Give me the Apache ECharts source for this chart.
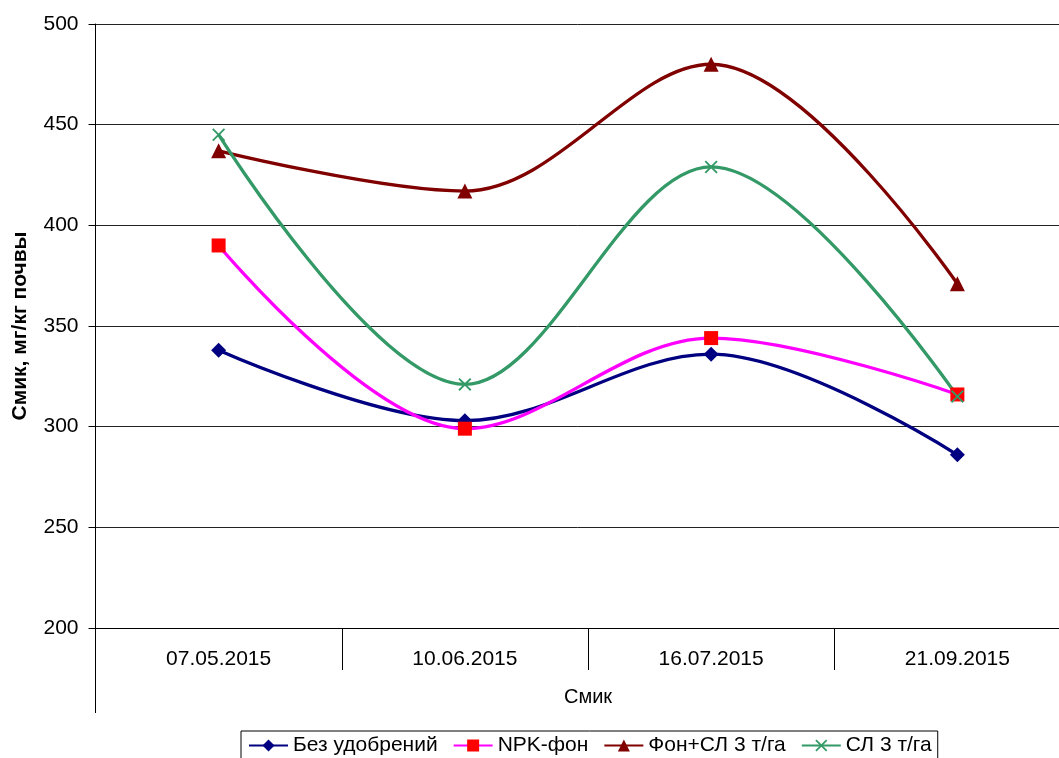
<!DOCTYPE html>
<html>
<head>
<meta charset="utf-8">
<script src="https://cdn.jsdelivr.net/npm/echarts@6/dist/echarts.min.js"></script>
<style>
html, body { margin: 0; padding: 0; background: #fff; }
#chart { width: 1059px; height: 758px; }
</style>
</head>
<body>
<div id="chart"></div>
<script>
var categories = ['07.05.2015', '10.06.2015', '16.07.2015', '21.09.2015'];
var bezUdobreniy = [338, 303, 336, 286];
var npkFon = [390, 299, 344, 316];
var fonSl3 = [437, 417, 480, 371];
var sl3 = [445, 321, 429, 315];

var yTicks = { min: 200, max: 500, interval: 50 };

var FONT = 'Liberation Sans, Arial, sans-serif';
var crossPath = 'path://M0,1L1,0L5,4L9,0L10,1L6,5L10,9L9,10L5,6L1,10L0,9L4,5Z';

function lineSeries(name, data, lineColor, markColor, symbol, size) {
    return {
        name: name,
        type: 'line',
        data: data,
        smooth: 0.35,
        symbol: symbol,
        symbolSize: size,
        showAllSymbol: true,
        lineStyle: { color: lineColor, width: 3.3 },
        itemStyle: { color: markColor, borderWidth: 0 },
        emphasis: { disabled: true }
    };
}

var chart = echarts.init(document.getElementById('chart'));
var option = {
    animation: false,
    backgroundColor: '#fff',
    textStyle: { fontFamily: FONT },
    // plot area runs past the right edge of the picture, as in the source
    grid: { left: 95.5, right: -21.5, top: 24, bottom: 130, containLabel: false, outerBoundsMode: 'none' },
    legend: {
        left: 241,
        top: 731,
        padding: [4, 6, 8, 7],
        borderColor: '#000',
        borderWidth: 1,
        itemWidth: 39,
        itemHeight: 15,
        itemGap: 15,
        textStyle: { fontSize: 21, color: '#000', fontFamily: FONT },
        data: ['Без удобрений', 'NPK-фон', 'Фон+СЛ 3 т/га', 'СЛ 3 т/га']
    },
    xAxis: {
        type: 'category',
        data: categories,
        boundaryGap: true,
        name: 'Смик',
        nameLocation: 'middle',
        nameGap: 59,
        nameTextStyle: { fontSize: 20, color: '#000', fontFamily: FONT },
        axisLine: { lineStyle: { color: '#000', width: 1 } },
        axisTick: { show: true, length: 42, lineStyle: { color: '#000' } },
        axisLabel: { fontSize: 21, color: '#000', margin: 21, fontFamily: FONT },
        splitLine: { show: false }
    },
    yAxis: {
        type: 'value',
        min: yTicks.min,
        max: yTicks.max,
        interval: yTicks.interval,
        name: 'Смик, мг/кг почвы',
        nameLocation: 'middle',
        nameGap: 65,
        nameTextStyle: { fontSize: 21, fontWeight: 'bold', color: '#000', fontFamily: FONT },
        axisLine: { show: true, lineStyle: { color: '#000', width: 1 } },
        axisTick: { show: true, length: 7, lineStyle: { color: '#000' } },
        axisLabel: { fontSize: 21, color: '#000', margin: 17, fontFamily: FONT },
        splitLine: { show: true, lineStyle: { color: '#222', width: 1 } }
    },
    graphic: [
        {
            type: 'line',
            shape: { x1: 95.5, y1: 628, x2: 95.5, y2: 713 },
            style: { stroke: '#000', lineWidth: 1 },
            silent: true
        }
    ],
    series: [
        lineSeries('Без удобрений', bezUdobreniy, '#000080', '#000080', 'diamond', 15),
        lineSeries('NPK-фон', npkFon, '#FF00FF', '#FF0000', 'rect', 14),
        lineSeries('Фон+СЛ 3 т/га', fonSl3, '#800000', '#800000', 'triangle', 15),
        lineSeries('СЛ 3 т/га', sl3, '#339966', '#339966', crossPath, 13)
    ]
};
chart.setOption(option);
</script>
</body>
</html>
